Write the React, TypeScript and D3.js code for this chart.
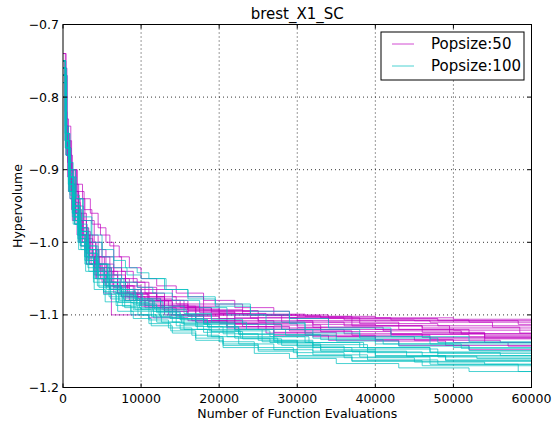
import React from "react";
import * as d3 from "d3";

// x values in thousands of function evaluations, y = hypervolume
const pop50Runs: [number, number][][] = [
  [[0,-0.75],[0.3,-0.83],[0.7,-0.88],[1.2,-0.92],[2,-0.96],[3,-0.99],[4.5,-1.02],[6,-1.04],[8,-1.055],[10.5,-1.07],[13,-1.08],[16,-1.088],[20,-1.094],[25,-1.099],[31,-1.102],[40,-1.104],[50,-1.106],[60,-1.106]],
  [[0,-0.77],[0.4,-0.86],[0.9,-0.9],[1.6,-0.95],[2.6,-0.99],[3.8,-1.02],[5,-1.04],[7,-1.06],[9,-1.07],[12,-1.08],[15.5,-1.09],[19,-1.095],[24,-1.1],[30,-1.102],[37,-1.105],[48,-1.108],[60,-1.108]],
  [[0,-0.76],[0.35,-0.85],[0.8,-0.91],[1.5,-0.955],[2.4,-0.985],[3.5,-1.01],[5.5,-1.035],[7.5,-1.05],[9.5,-1.062],[12,-1.075],[14.5,-1.085],[18,-1.093],[23,-1.1],[29,-1.104],[38,-1.108],[47,-1.11],[55,-1.117],[58.5,-1.125],[60,-1.125]],
  [[0,-0.78],[0.3,-0.84],[0.6,-0.89],[1.1,-0.93],[1.9,-0.97],[3,-1.0],[4.2,-1.03],[6.5,-1.05],[8.5,-1.065],[11,-1.078],[14,-1.088],[17,-1.095],[22,-1.1],[28,-1.104],[36,-1.107],[45,-1.108],[58.3,-1.113],[60,-1.113]],
  [[0,-0.75],[0.25,-0.82],[0.5,-0.88],[0.9,-0.93],[1.4,-0.97],[2.1,-1.0],[3,-1.03],[4.2,-1.05],[5.2,-1.07],[6.2,-1.1],[11,-1.104],[16,-1.108],[22,-1.112],[30,-1.117],[40,-1.12],[50,-1.121],[60,-1.121]],
  [[0,-0.74],[0.4,-0.84],[1,-0.9],[1.8,-0.94],[2.8,-0.97],[4,-1.0],[5,-1.02],[6.5,-1.045],[8,-1.06],[10,-1.075],[13,-1.09],[17,-1.1],[21,-1.11],[26,-1.118],[33,-1.123],[42,-1.127],[52,-1.13],[60,-1.13]],
  [[0,-0.77],[0.5,-0.87],[1,-0.9],[1.7,-0.92],[2.5,-0.94],[3.5,-0.96],[4.5,-0.98],[5.5,-1.0],[6.5,-1.02],[7.5,-1.04],[9,-1.055],[11,-1.065],[14,-1.075],[18,-1.085],[23,-1.095],[29,-1.105],[37,-1.115],[46,-1.124],[54,-1.128],[60,-1.128]],
  [[0,-0.76],[0.3,-0.85],[0.7,-0.9],[1.3,-0.94],[2.2,-0.98],[3.2,-1.01],[4.5,-1.035],[6,-1.05],[8,-1.065],[10,-1.075],[13,-1.085],[16,-1.092],[20,-1.1],[25,-1.108],[32,-1.113],[40,-1.115],[49.5,-1.125],[54,-1.132],[60,-1.132]],
  [[0,-0.75],[0.3,-0.86],[0.8,-0.92],[1.4,-0.96],[2.2,-0.995],[3.2,-1.025],[4.5,-1.05],[6,-1.065],[7.5,-1.075],[10,-1.085],[13,-1.095],[17,-1.105],[22,-1.113],[28,-1.12],[36,-1.126],[46,-1.131],[60,-1.134]],
  [[0,-0.78],[0.4,-0.88],[0.9,-0.93],[1.6,-0.97],[2.5,-1.0],[3.6,-1.03],[5,-1.055],[6.5,-1.07],[8.5,-1.08],[11,-1.09],[14,-1.1],[18,-1.108],[23,-1.116],[29,-1.122],[37,-1.128],[47,-1.133],[60,-1.136]],
  [[0,-0.76],[0.35,-0.87],[0.8,-0.92],[1.3,-0.95],[2,-0.99],[3,-1.02],[4,-1.04],[5.5,-1.06],[7.5,-1.075],[10,-1.088],[13,-1.1],[16.5,-1.108],[21,-1.116],[27,-1.124],[35,-1.13],[45,-1.135],[56,-1.138],[60,-1.138]],
  [[0,-0.75],[0.3,-0.86],[0.6,-0.91],[1.1,-0.955],[1.8,-0.99],[2.8,-1.02],[4,-1.045],[5.5,-1.06],[7,-1.07],[9.5,-1.08],[12.5,-1.092],[16,-1.102],[20,-1.112],[25,-1.12],[31,-1.128],[40,-1.134],[50,-1.138],[60,-1.14]],
  [[0,-0.77],[0.4,-0.88],[0.9,-0.94],[1.5,-0.975],[2.3,-1.005],[3.4,-1.03],[4.8,-1.05],[6.5,-1.062],[8.5,-1.072],[11,-1.082],[14,-1.092],[18,-1.1],[22,-1.108],[27,-1.114],[33,-1.12],[42,-1.126],[54,-1.138],[57,-1.143],[60,-1.143]],
  [[0,-0.76],[0.3,-0.87],[0.7,-0.93],[1.2,-0.97],[2,-1.0],[3,-1.03],[4.3,-1.05],[6,-1.065],[8,-1.08],[10.5,-1.09],[13.5,-1.1],[17,-1.11],[21,-1.118],[26,-1.125],[32,-1.13],[40,-1.136],[49,-1.142],[60,-1.146]],
  [[0,-0.74],[0.3,-0.86],[0.7,-0.92],[1.3,-0.96],[2,-0.99],[2.9,-1.015],[4,-1.035],[5.3,-1.055],[7,-1.07],[9,-1.08],[11.5,-1.09],[14.5,-1.1],[18,-1.11],[22,-1.12],[27,-1.128],[34,-1.135],[43,-1.142],[52,-1.148],[60,-1.15]],
  [[0,-0.75],[0.35,-0.85],[0.8,-0.9],[1.4,-0.945],[2.2,-0.98],[3.3,-1.01],[4.6,-1.035],[6.2,-1.055],[8.3,-1.07],[10.8,-1.08],[13.5,-1.088],[17.5,-1.097],[22,-1.104],[28,-1.11],[36,-1.115],[46,-1.118],[60,-1.12]],
  [[0,-0.77],[0.5,-0.87],[1,-0.92],[1.7,-0.96],[2.6,-0.995],[3.8,-1.02],[5.3,-1.045],[7,-1.06],[9.2,-1.07],[12,-1.08],[15,-1.09],[19,-1.098],[24,-1.104],[30,-1.108],[38,-1.112],[48,-1.115],[60,-1.117]],
  [[0,-0.76],[0.5,-0.86],[1.1,-0.9],[1.8,-0.93],[2.7,-0.955],[3.7,-0.975],[4.8,-0.99],[6,-1.005],[7.2,-1.02],[8.5,-1.035],[10,-1.05],[12,-1.06],[14.5,-1.07],[18,-1.08],[22,-1.09],[27,-1.1],[34,-1.11],[43,-1.12],[52,-1.126],[60,-1.13]],
  [[0,-0.75],[0.3,-0.84],[0.7,-0.89],[1.2,-0.93],[2,-0.97],[3,-1.0],[4.2,-1.03],[5.6,-1.05],[7.4,-1.065],[9.6,-1.077],[12.5,-1.087],[16,-1.094],[20,-1.098],[26,-1.101],[33,-1.104],[42,-1.107],[52,-1.11],[60,-1.11]],
  [[0,-0.77],[0.4,-0.86],[0.9,-0.92],[1.6,-0.96],[2.4,-0.99],[3.4,-1.02],[4.7,-1.04],[6.3,-1.06],[8.2,-1.075],[10.5,-1.087],[13,-1.095],[16,-1.1],[20,-1.105],[25,-1.11],[32,-1.117],[41,-1.122],[51,-1.126],[60,-1.128]],
];

const pop100Runs: [number, number][][] = [
  [[0,-0.76],[0.4,-0.85],[0.9,-0.9],[1.6,-0.94],[2.5,-0.97],[3.6,-1.0],[5,-1.02],[6.5,-1.035],[8.2,-1.045],[10,-1.05],[13,-1.065],[16,-1.075],[19.5,-1.085],[24,-1.095],[29,-1.105],[34,-1.118],[42,-1.13],[52,-1.137],[60,-1.14]],
  [[0,-0.75],[0.3,-0.85],[0.7,-0.9],[1.3,-0.95],[2.1,-0.985],[3.1,-1.01],[4.3,-1.03],[5.8,-1.045],[7.5,-1.055],[9.5,-1.062],[11.5,-1.07],[14,-1.08],[17.5,-1.09],[21,-1.1],[26,-1.11],[31,-1.12],[38,-1.13],[47,-1.14],[60,-1.145]],
  [[0,-0.77],[0.35,-0.86],[0.8,-0.91],[1.4,-0.95],[2.2,-0.98],[3.2,-1.005],[4.5,-1.03],[6,-1.05],[7.8,-1.065],[10,-1.078],[12.5,-1.088],[15.5,-1.098],[19,-1.106],[23,-1.113],[28,-1.12],[32,-1.132],[40,-1.14],[50,-1.145],[60,-1.148]],
  [[0,-0.76],[0.3,-0.86],[0.7,-0.92],[1.2,-0.96],[1.9,-0.99],[2.8,-1.02],[3.9,-1.04],[5.3,-1.06],[7,-1.072],[9,-1.085],[11.5,-1.095],[14.5,-1.105],[18,-1.112],[22,-1.12],[27,-1.127],[33,-1.134],[41,-1.14],[51,-1.146],[60,-1.15]],
  [[0,-0.78],[0.4,-0.87],[0.9,-0.92],[1.5,-0.955],[2.3,-0.985],[3.3,-1.01],[4.6,-1.035],[6.2,-1.055],[8,-1.07],[10.2,-1.082],[12.8,-1.093],[15.8,-1.1],[19,-1.11],[23.5,-1.12],[28.5,-1.128],[35,-1.136],[43,-1.143],[52,-1.149],[60,-1.152]],
  [[0,-0.75],[0.3,-0.84],[0.7,-0.89],[1.3,-0.935],[2.1,-0.975],[3.1,-1.005],[4.3,-1.03],[5.7,-1.05],[7.3,-1.065],[9.2,-1.078],[11.5,-1.09],[14,-1.1],[17,-1.11],[21,-1.12],[25.5,-1.13],[31,-1.138],[38,-1.145],[47,-1.151],[60,-1.155]],
  [[0,-0.76],[0.3,-0.86],[0.8,-0.92],[1.4,-0.965],[2.2,-1.0],[3.2,-1.025],[4.4,-1.045],[5.8,-1.06],[7.4,-1.075],[9.4,-1.087],[12,-1.097],[15,-1.107],[18.5,-1.117],[22.5,-1.126],[27,-1.135],[32,-1.141],[39,-1.147],[48,-1.153],[60,-1.157]],
  [[0,-0.77],[0.35,-0.87],[0.8,-0.93],[1.4,-0.97],[2.1,-1.0],[3,-1.03],[4.1,-1.05],[5.5,-1.07],[7.1,-1.083],[9,-1.093],[11.3,-1.102],[14,-1.11],[17.2,-1.12],[21,-1.13],[25.5,-1.137],[30,-1.145],[37,-1.151],[46,-1.156],[60,-1.16]],
  [[0,-0.75],[0.3,-0.85],[0.7,-0.905],[1.2,-0.945],[1.9,-0.98],[2.8,-1.01],[3.9,-1.035],[5.2,-1.055],[6.8,-1.07],[8.7,-1.083],[11,-1.095],[13.7,-1.105],[17,-1.116],[20.5,-1.126],[25,-1.135],[30,-1.143],[36,-1.15],[44,-1.157],[53,-1.16],[60,-1.162]],
  [[0,-0.76],[0.4,-0.88],[0.9,-0.94],[1.5,-0.975],[2.3,-1.005],[3.3,-1.03],[4.5,-1.05],[6,-1.065],[7.8,-1.08],[10,-1.092],[12.5,-1.103],[15.5,-1.113],[19,-1.123],[23,-1.133],[28,-1.142],[33,-1.15],[40,-1.157],[49,-1.162],[60,-1.165]],
  [[0,-0.77],[0.3,-0.86],[0.7,-0.915],[1.2,-0.955],[2,-0.99],[3,-1.02],[4.2,-1.045],[5.6,-1.065],[7.2,-1.08],[9.2,-1.092],[11.6,-1.104],[14.5,-1.115],[18,-1.124],[22,-1.132],[26.5,-1.138],[32,-1.15],[38,-1.158],[47,-1.164],[60,-1.167]],
  [[0,-0.75],[0.3,-0.86],[0.7,-0.92],[1.2,-0.96],[1.9,-0.995],[2.8,-1.025],[3.9,-1.05],[5.2,-1.068],[6.8,-1.082],[8.7,-1.095],[11,-1.107],[13.5,-1.118],[16.5,-1.128],[20,-1.137],[24.5,-1.145],[29.5,-1.152],[36,-1.159],[45,-1.165],[54,-1.168],[60,-1.17]],
  [[0,-0.76],[0.35,-0.87],[0.8,-0.93],[1.4,-0.97],[2.2,-1.005],[3.2,-1.035],[4.4,-1.06],[5.9,-1.075],[7.6,-1.088],[9.6,-1.1],[12,-1.11],[15,-1.12],[18.5,-1.13],[22.5,-1.14],[27,-1.148],[32,-1.155],[39,-1.162],[48,-1.168],[60,-1.172]],
  [[0,-0.78],[0.4,-0.88],[0.9,-0.935],[1.5,-0.975],[2.3,-1.01],[3.3,-1.04],[4.6,-1.062],[6.1,-1.078],[7.9,-1.09],[10,-1.1],[12.6,-1.11],[15.5,-1.12],[19,-1.13],[20.5,-1.14],[25,-1.148],[30,-1.156],[37,-1.163],[46,-1.17],[60,-1.175]],
  [[0,-0.75],[0.3,-0.86],[0.7,-0.92],[1.2,-0.965],[1.9,-1.0],[2.8,-1.03],[3.9,-1.055],[5.2,-1.072],[6.8,-1.087],[8.7,-1.1],[11,-1.112],[13.8,-1.122],[17,-1.132],[20.5,-1.142],[25,-1.15],[30,-1.158],[37,-1.164],[47,-1.168],[58.3,-1.178],[60,-1.178]],
  [[0,-0.76],[0.3,-0.87],[0.7,-0.93],[1.3,-0.975],[2,-1.01],[2.9,-1.04],[4,-1.065],[5.4,-1.082],[7,-1.095],[9,-1.105],[11.3,-1.115],[14,-1.125],[17,-1.135],[20.5,-1.145],[24.5,-1.153],[29,-1.16],[35,-1.167],[43,-1.173],[52,-1.178],[60,-1.181]],
  [[0,-0.77],[0.5,-0.87],[1,-0.91],[1.7,-0.94],[2.6,-0.965],[3.7,-0.99],[5,-1.01],[6.5,-1.025],[8,-1.035],[9.5,-1.042],[11,-1.05],[13.2,-1.065],[16,-1.078],[19.5,-1.088],[24,-1.1],[29,-1.112],[31,-1.125],[38,-1.132],[48,-1.138],[60,-1.142]],
  [[0,-0.75],[0.35,-0.86],[0.8,-0.91],[1.4,-0.95],[2.2,-0.985],[3.2,-1.015],[4.4,-1.04],[5.8,-1.06],[7.5,-1.073],[9.5,-1.085],[12,-1.095],[15,-1.106],[18.5,-1.116],[22.5,-1.127],[27,-1.137],[32,-1.145],[39,-1.152],[48,-1.158],[60,-1.163]],
  [[0,-0.76],[0.3,-0.85],[0.7,-0.91],[1.3,-0.955],[2.1,-0.99],[3.1,-1.015],[4.3,-1.038],[5.7,-1.055],[7.3,-1.068],[9.3,-1.08],[11.7,-1.092],[14.5,-1.102],[18,-1.113],[22,-1.122],[26.5,-1.13],[31.5,-1.138],[38.5,-1.145],[47,-1.152],[56,-1.156],[60,-1.158]],
  [[0,-0.77],[0.4,-0.87],[0.9,-0.925],[1.5,-0.965],[2.3,-0.995],[3.3,-1.022],[4.5,-1.045],[6,-1.063],[7.7,-1.077],[9.8,-1.09],[12.3,-1.1],[15.2,-1.112],[18.7,-1.122],[22.7,-1.132],[27.5,-1.14],[33,-1.148],[40,-1.156],[49,-1.163],[60,-1.168]],
];

const xTicks = [0, 10000, 20000, 30000, 40000, 50000, 60000];
const yTicks = [-0.7, -0.8, -0.9, -1.0, -1.1, -1.2];
const legendLabels = ["Popsize:50", "Popsize:100"];
const seriesColors = ["#bf00bf", "#00bfbf"];
const title = "brest_X1_SC";
const xLabel = "Number of Function Evaluations";
const yLabel = "Hypervolume";

const W = 555, H = 427;
const M = { left: 63, right: 531.5, top: 24.5, bottom: 387.5 };
const FONT = "DejaVu Sans, sans-serif";

export default function App() {
  const x = d3.scaleLinear().domain([0, 60000]).range([M.left, M.right]);
  const y = d3.scaleLinear().domain([-0.7, -1.2]).range([M.top, M.bottom]);
  const line = d3
    .line<[number, number]>()
    .x((d) => x(d[0] * 1000))
    .y((d) => y(d[1]))
    .curve(d3.curveStepAfter);

  const fmtY = (v: number) => v.toFixed(1).replace("-", "\u2212");
  const tickLen = 4;
  const groups = [pop50Runs, pop100Runs];

  return (
    <svg width={W} height={H} style={{ position: "absolute", left: 0, top: 0, background: "#fff" }}>
      <defs>
        <clipPath id="plot">
          <rect x={M.left} y={M.top} width={M.right - M.left} height={M.bottom - M.top} />
        </clipPath>
      </defs>
      <rect x={0} y={0} width={W} height={H} fill="#fff" />
      {/* grid */}
      <g stroke="#000" strokeWidth={0.8} strokeDasharray="1,3">
        {xTicks.slice(1, -1).map((t) => (
          <line key={"gx" + t} x1={x(t)} x2={x(t)} y1={M.top} y2={M.bottom} />
        ))}
        {yTicks.slice(1, -1).map((t) => (
          <line key={"gy" + t} x1={M.left} x2={M.right} y1={y(t)} y2={y(t)} />
        ))}
      </g>
      {/* lines */}
      <g clipPath="url(#plot)" fill="none" strokeWidth={1}>
        {groups.map((runs, gi) =>
          runs.map((r, i) => (
            <path key={gi + "-" + i} d={line(r) || ""} stroke={seriesColors[gi]} strokeOpacity={0.7} />
          ))
        )}
      </g>
      {/* spines */}
      <rect x={M.left} y={M.top} width={M.right - M.left} height={M.bottom - M.top} fill="none" stroke="#000" strokeWidth={1} />
      {/* ticks */}
      <g stroke="#000" strokeWidth={1}>
        {xTicks.map((t) => (
          <g key={"tx" + t}>
            <line x1={x(t)} x2={x(t)} y1={M.bottom} y2={M.bottom - tickLen} />
            <line x1={x(t)} x2={x(t)} y1={M.top} y2={M.top + tickLen} />
          </g>
        ))}
        {yTicks.map((t) => (
          <g key={"ty" + t}>
            <line x1={M.left} x2={M.left + tickLen} y1={y(t)} y2={y(t)} />
            <line x1={M.right} x2={M.right - tickLen} y1={y(t)} y2={y(t)} />
          </g>
        ))}
      </g>
      {/* tick labels */}
      <g fontFamily={FONT} fontSize={12.5} fill="#000">
        {xTicks.map((t) => (
          <text key={"lx" + t} x={x(t)} y={M.bottom + 15} textAnchor="middle">
            {String(t)}
          </text>
        ))}
        {yTicks.map((t) => (
          <text key={"ly" + t} x={M.left - 4} y={y(t) + 4.5} textAnchor="end">
            {fmtY(t)}
          </text>
        ))}
      </g>
      <text x={(M.left + M.right) / 2} y={19} textAnchor="middle" fontFamily={FONT} fontSize={15}>
        {title}
      </text>
      <text x={(M.left + M.right) / 2} y={418} textAnchor="middle" fontFamily={FONT} fontSize={12.5}>
        {xLabel}
      </text>
      <text
        transform={`translate(22,${(M.top + M.bottom) / 2}) rotate(-90)`}
        textAnchor="middle"
        fontFamily={FONT}
        fontSize={12.5}
      >
        {yLabel}
      </text>
      {/* legend */}
      <g>
        <rect x={381} y={32} width={143} height={48} fill="#fff" stroke="#000" strokeWidth={1} />
        {legendLabels.map((lab, i) => (
          <g key={lab}>
            <line x1={392} x2={414} y1={44 + i * 22} y2={44 + i * 22} stroke={seriesColors[i]} strokeOpacity={0.7} strokeWidth={1} />
            <text x={431} y={44 + i * 22 + 5} fontFamily={FONT} fontSize={15}>
              {lab}
            </text>
          </g>
        ))}
      </g>
    </svg>
  );
}
